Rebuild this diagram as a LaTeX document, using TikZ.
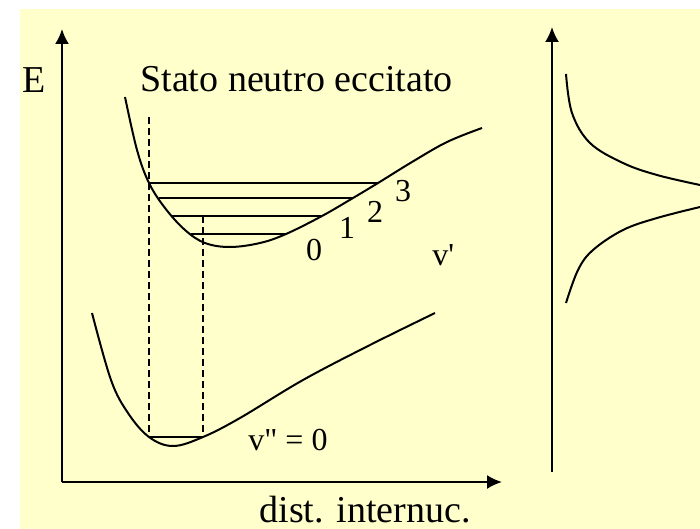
\documentclass[tikz,border=0pt]{standalone}
\usepackage{fontspec}
\setmainfont{Liberation Serif}
\usepackage{xcolor}
\usetikzlibrary{arrows.meta}
\definecolor{myyellow}{RGB}{255,255,204}

\begin{document}
\begin{tikzpicture}[x=0.5pt,y=-0.5pt,
  axis/.style={-{Latex[length=7.5pt,width=7pt]}, line width=1pt},
  curve/.style={line width=1pt},
  level/.style={line width=0.9pt},
  guide/.style={line width=1pt, dash pattern=on 3.5pt off 2pt},
  big/.style={font=\fontsize{19}{22}\selectfont, inner sep=0pt, anchor=base},
  lab/.style={font=\fontsize{16}{18}\selectfont, inner sep=0pt, anchor=base}]

 \useasboundingbox (0,0) rectangle (700,529);
 \fill[myyellow] (20,9) rectangle (700,529);

 % axes
 \coordinate (O) at (62,482);
 \coordinate (Ytip) at (62,29);
 \coordinate (Xtip) at (502,482);
 \coordinate (R0) at (552,472);
 \coordinate (Rtip) at (552,27);
 \draw[axis] (O) -- (Ytip);
 \draw[axis] (O) -- (Xtip);
 \draw[axis] (R0) -- (Rtip);

 % level ends
 \coordinate (L3a) at (149,183);
 \coordinate (L3b) at (378,183);
 \coordinate (L2a) at (159,198);
 \coordinate (L2b) at (353,198);
 \coordinate (L1a) at (172,216);
 \coordinate (L1b) at (322,216);
 \coordinate (L0a) at (191,234);
 \coordinate (L0b) at (286,234);
 \coordinate (G0a) at (149,437);
 \coordinate (G0b) at (203,437);

 % excited state
 \draw[curve] plot[smooth, tension=0.6] coordinates {(125,97) (137,150) (L3a) (165,208)
   (185,230) (205,243) (230,247) (260,243) (L0b) (L1b) (L2b) (L3b) (412,162) (447,142) (482,128)};
 \draw[level] (L3a) -- (L3b);
 \draw[level] (L2a) -- (L2b);
 \draw[level] (L1a) -- (L1b);
 \draw[level] (L0a) -- (L0b);

 % ground state
 \draw[curve] plot[smooth, tension=0.6] coordinates {(92,313) (111,380) (128,413) (G0a)
   (173,446) (G0b) (240,418) (303,380) (370,345) (435,313)};
 \draw[level] (G0a) -- (G0b);

 % vertical transitions
 \coordinate (D1) at (149,117);
 \coordinate (D2) at (203,216);
 \draw[guide] (D1) -- (G0a);
 \draw[guide] (D2) -- (G0b);

 % band profile
 \draw[curve] plot[smooth, tension=0.6] coordinates {(566,74) (572,113) (590,143) (623,163) (657,175) (700,185)};
 \draw[curve] plot[smooth, tension=0.6] coordinates {(700,207) (657,218) (623,230) (593,250) (578,270) (566,303)};

 \node[big, anchor=base west] (nE) at (22,93) {E};
 \node[big, anchor=base west] (nTitle) at (140,92) {Stato neutro eccitato};
 \node[big] (nDist) at (365,522) {dist. internuc.};
 \node[lab, anchor=base west] (nV0) at (248,450) {v\textquotedbl{} = 0};
 \node[lab] (n0) at (314,260) {0};
 \node[lab] (n1) at (347,238) {1};
 \node[lab] (n2) at (375,222) {2};
 \node[lab] (n3) at (403,201) {3};
 \node[lab, anchor=base west] (nVp) at (432,265) {v\textquotesingle};
\end{tikzpicture}
\end{document}
